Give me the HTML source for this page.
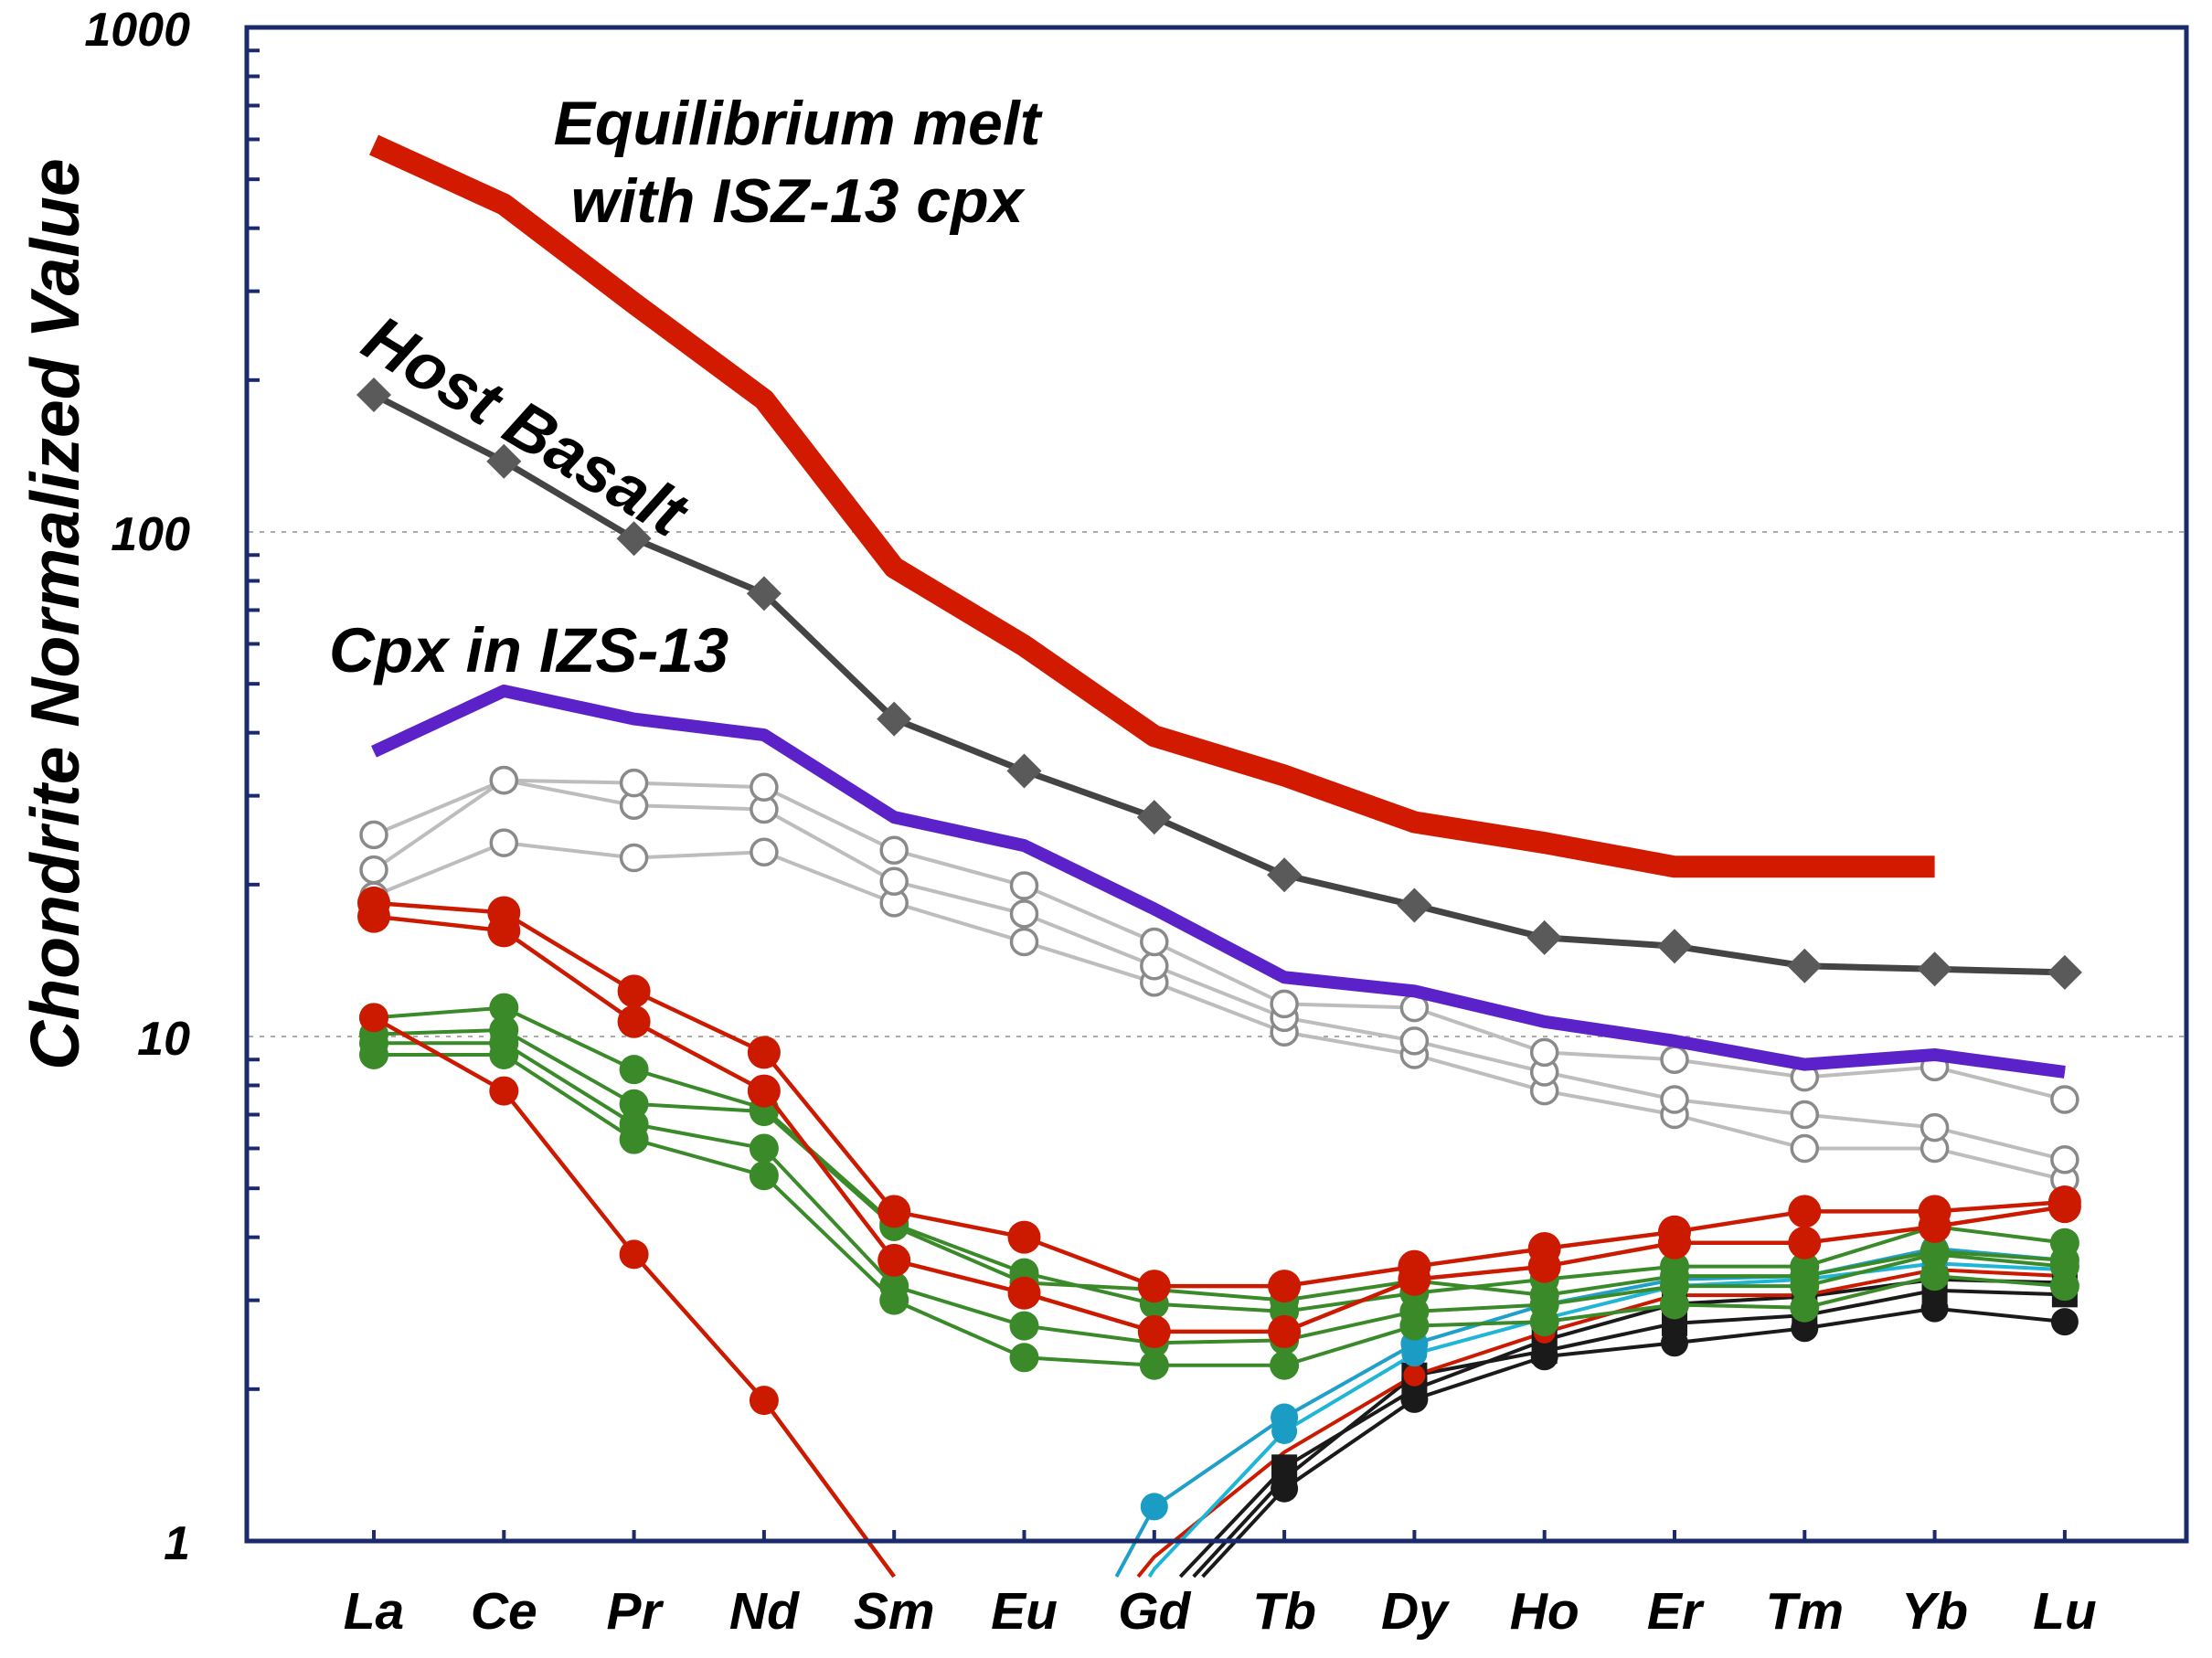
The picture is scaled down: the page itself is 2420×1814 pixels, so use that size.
<!DOCTYPE html>
<html><head><meta charset="utf-8">
<style>
html,body{margin:0;padding:0;background:#fff;width:2420px;height:1814px;overflow:hidden;}
svg{display:block;}
text{font-family:"Liberation Sans",Arial,sans-serif;font-weight:bold;font-style:italic;}
</style></head>
<body>
<svg id="chart" width="2420" height="1814" viewBox="0 0 2420 1814" xmlns="http://www.w3.org/2000/svg">
<g id="grid"></g>
<g id="series"></g>
<g id="axes"></g>
<g id="labels"></g>
<g>
<text transform="translate(86,672) rotate(-90)" text-anchor="middle" font-size="75">Chondrite Normalized Value</text>
<text x="872" y="158" text-anchor="middle" font-size="68">Equilibrium melt</text>
<text x="872" y="243" text-anchor="middle" font-size="68">with ISZ-13 cpx</text>
<text transform="translate(392,385) rotate(31)" font-size="72">Host Basalt</text>
<text x="360" y="735" font-size="69">Cpx in IZS-13</text>
</g>
</svg>
<script>
const categories = ["La","Ce","Pr","Nd","Sm","Eu","Gd","Tb","Dy","Ho","Er","Tm","Yb","Lu"];
const yTicks = [1,10,100,1000];
const yTickLabels = ["1","10","100","1000"];
const melt = [585,446,284,183,85,59.5,39.4,32.9,26.6,24.2,21.7,21.7,21.7,null];
const basalt = [187,138,97,75.5,42.6,33.6,27.2,20.9,18.2,15.7,15.1,13.8,13.6,13.4];
const cpxMean = [36.7,48.4,42.6,39.6,27.2,23.9,17.9,13.1,12.3,10.7,9.8,8.8,9.2,8.5];
const grayA = [25.1,32.2,31.8,31.2,23.4,19.9,15.4,11.6,11.4,9.3,9.0,8.3,8.7,7.5];
const grayB = [21.4,32.2,28.7,28.2,20.3,17.5,13.8,10.9,9.8,8.5,7.5,7.0,6.6,5.7];
const grayC = [19.0,24.2,22.6,23.2,18.4,15.4,12.8,10.2,9.2,7.8,7.0,6.0,6.0,5.2];
const red1 = [18.4,17.6,12.3,9.3,4.5,4.0,3.2,3.2,3.5,3.8,4.1,4.5,4.5,4.7];
const red2 = [17.3,16.2,10.7,7.8,3.6,3.1,2.6,2.6,3.3,3.5,3.9,3.9,4.2,4.6];
const red3 = [10.9,7.8,3.7,1.9,0.85,null,null,null,null,null,null,null,null,null];
const green1 = [10.9,11.4,8.6,7.2,4.25,3.4,2.95,2.85,3.1,3.3,3.5,3.5,4.2,3.9];
const green2 = [10.1,10.3,7.35,7.1,4.2,3.25,3.15,3.0,3.28,3.07,3.35,3.35,3.75,3.6];
const green3 = [9.7,9.7,6.7,6.0,3.2,2.67,2.47,2.5,2.85,2.94,3.2,3.2,3.7,3.5];
const green4 = [9.2,9.2,6.25,5.3,3.0,2.31,2.23,2.23,2.67,2.72,2.94,2.9,3.35,3.2];
const cyan1 = [null,null,null,null,null,0.39,1.17,1.76,2.46,2.94,3.3,3.35,3.8,3.6];
const cyan2 = [null,null,null,null,null,0.35,0.88,1.65,2.35,2.76,3.2,3.3,3.55,3.45];
const red4 = [null,null,null,null,null,0.45,0.93,1.5,2.13,2.59,3.07,3.07,3.45,3.35];
const black1 = [null,null,null,null,null,null,0.75,1.40,2.0,2.5,2.95,3.05,3.3,3.25];
const black2 = [null,null,null,null,null,null,0.67,1.27,1.91,2.32,2.47,2.64,2.89,2.72];
const black3 = [null,null,null,null,null,null,0.70,1.33,2.13,2.38,2.7,2.8,3.14,3.08];

const NS="http://www.w3.org/2000/svg";
const X0=409, DX=142.3, Y1=1686, DEC=552, YCUT=1725;
function xs(i){return X0+i*DX;}
function ys(v){return Y1-Math.log10(v)*DEC;}
function mk(tag,attrs,parent){const e=document.createElementNS(NS,tag);for(const k in attrs)e.setAttribute(k,attrs[k]);parent.appendChild(e);return e;}
const G=document.getElementById('grid'),S=document.getElementById('series'),A=document.getElementById('axes'),L=document.getElementById('labels');

[10,100].forEach(v=>{
  const g=mk('line',{x1:272,x2:2392,y1:ys(v),y2:ys(v),stroke:'#aaa','stroke-width':2,'stroke-dasharray':'5,7'},G);
  
  
});

function pts(arr){
  const raw=[];arr.forEach((v,i)=>{if(v!=null)raw.push([xs(i),ys(v)]);});
  const out=[];
  for(let k=0;k<raw.length;k++){
    const p=raw[k];
    if(p[1]<=YCUT){
      if(k>0&&raw[k-1][1]>YCUT){const q=raw[k-1];const t=(YCUT-q[1])/(p[1]-q[1]);out.push([q[0]+t*(p[0]-q[0]),YCUT]);}
      out.push(p);
    } else if(k>0&&raw[k-1][1]<=YCUT){
      const q=raw[k-1];const t=(YCUT-q[1])/(p[1]-q[1]);out.push([q[0]+t*(p[0]-q[0]),YCUT]);
    }
  }
  return out;
}
function line(arr,color,w,name){
  const p=pts(arr);
  const el=mk('polyline',{points:p.map(q=>q.join(',')).join(' '),fill:'none',stroke:color,'stroke-width':w,'stroke-linejoin':'round'},S);
  
  
}
function markers(arr,kind,color,r,name,from,to){
  arr.forEach((v,i)=>{
    if(v==null||(from!=null&&i<from)||(to!=null&&i>to))return;
    const x=xs(i),y=ys(v);let m;
    if(kind==='circle')m=mk('circle',{cx:x,cy:y,r:r,fill:color},S);
    else if(kind==='open')m=mk('circle',{cx:x,cy:y,r:r,fill:'#fff',stroke:color,'stroke-width':3.5},S);
    else if(kind==='square')m=mk('rect',{x:x-r,y:y-r,width:2*r,height:2*r,fill:color},S);
    else m=mk('polygon',{points:`${x},${y-r} ${x+r},${y} ${x},${y+r} ${x-r},${y}`,fill:color},S);
    
    
  });
}
[[grayC,'gray-c'],[grayB,'gray-b'],[grayA,'gray-a']].forEach(([a,n])=>{line(a,'#bdbdbd',4,n+'-line');});
[[grayC,'gray-c'],[grayB,'gray-b'],[grayA,'gray-a']].forEach(([a,n])=>{markers(a,'open','#8a8a8a',14,n);});
[[black2,'#1a1a1a','black-2'],[black3,'#1a1a1a','black-3'],[black1,'#1a1a1a','black-1'],[red4,'#cc1a00','red-4'],[cyan2,'#1fb5d6','cyan-2'],[cyan1,'#1fa0c8','cyan-1']].forEach(([a,c,n])=>{line(a,c,4,n+'-line');});
markers(black2,'circle','#1a1a1a',15,'black-2',7);
markers(black3,'square','#1a1a1a',14,'black-3',7);
markers(black1,'square','#1a1a1a',14,'black-1',7);
markers(red4,'circle','#cc1a00',12,'red-4',8);
markers(cyan2,'circle','#1a9cc4',14,'cyan-2',7);
markers(cyan1,'circle','#1a9cc4',15,'cyan-1',6);
[[green4,'green-4'],[green3,'green-3'],[green2,'green-2'],[green1,'green-1']].forEach(([a,n])=>{line(a,'#3a8a2a',4,n+'-line');markers(a,'circle','#3a8a2a',16,n);});
[[red3,'red-3'],[red2,'red-2'],[red1,'red-1']].forEach(([a,n])=>{line(a,'#cc1a00',4.5,n+'-line');});
markers(red3,'circle','#cc1a00',16,'red-3',0,3);markers(red2,'circle','#cc1a00',18,'red-2');markers(red1,'circle','#cc1a00',18,'red-1');
line(cpxMean,'#111',8,'cpx-inner-line');
line(cpxMean,'#5a22c8',14,'cpx-mean-line');
line(basalt,'#444',7,'host-basalt-line');
markers(basalt,'diamond','#5a5a5a',19,'host-basalt');
line(melt,'#d21a00',24,'equilibrium-melt-line');

const fr=mk('rect',{x:270,y:30,width:2122,height:1656,fill:'none',stroke:'#1a2a6c','stroke-width':5},A);


for(let d=0;d<3;d++){for(let k=2;k<=9;k++){const v=Math.pow(10,d)*k;const y=ys(v);
  const t=mk('line',{x1:272,x2:284,y1:y,y2:y,stroke:'#1a2a6c','stroke-width':4},A);
  
  }}
yTicks.forEach((v,i)=>{
  const t=mk('text',{x:208,y:ys(v)+20,'font-size':52,'text-anchor':'end',fill:'#000'},L);
  t.textContent=yTickLabels[i];
  
  
});
categories.forEach((c,i)=>{
  const tk=mk('line',{x1:xs(i),x2:xs(i),y1:1686,y2:1674,stroke:'#1a2a6c','stroke-width':4},A);
  
  
  const t=mk('text',{x:xs(i),y:1782,'font-size':57,'text-anchor':'middle',fill:'#000'},L);
  t.textContent=c;
  
  
});
</script>
</body></html>
